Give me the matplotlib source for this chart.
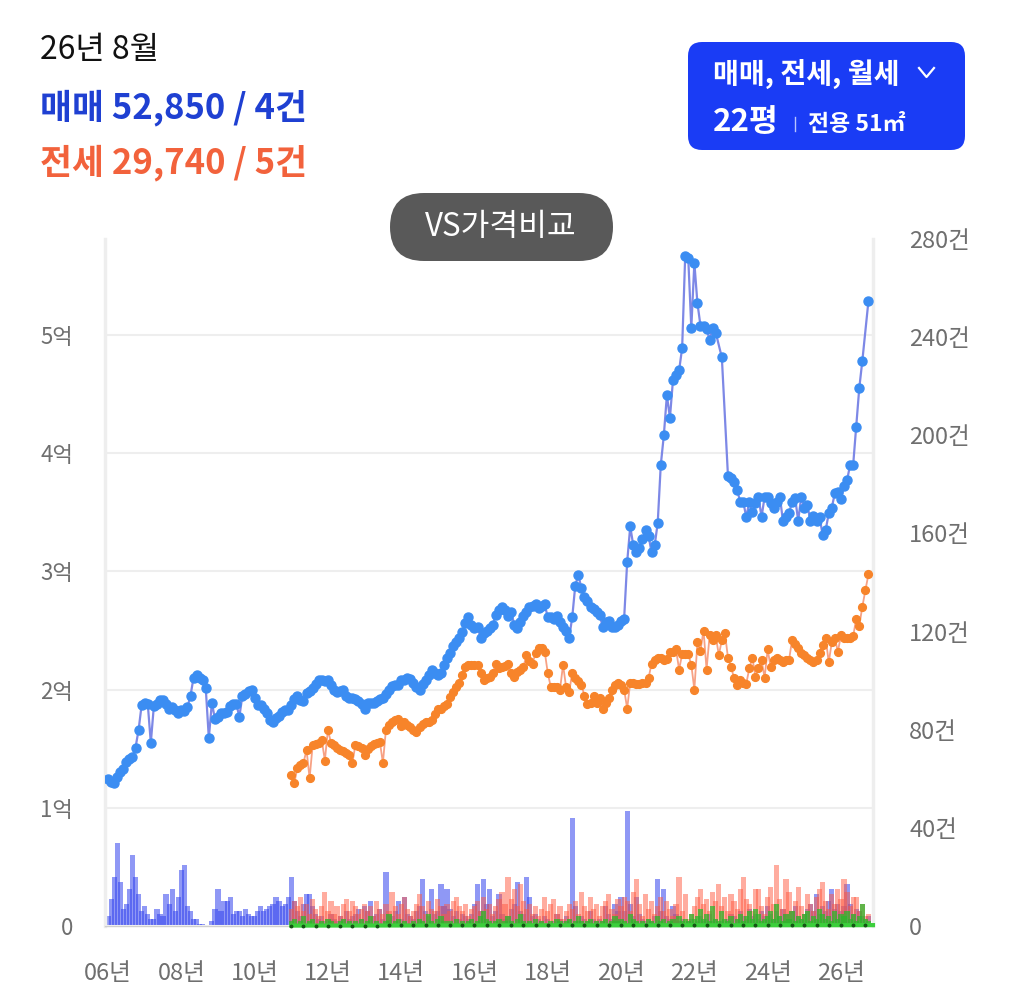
import numpy as np
import matplotlib
matplotlib.use("Agg")
import matplotlib.pyplot as plt
from matplotlib.patches import FancyBboxPatch

plt.rcParams["font.family"] = ["Noto Sans CJK KR", "DejaVu Sans"]

# ---- data (month index 0 = 2006-01) ----
tick_months = [0, 24, 48, 72, 96, 120, 144, 168, 192, 216, 240]
tick_labels = ["06년", "08년", "10년", "12년", "14년", "16년", "18년", "20년", "22년", "24년", "26년"]

price_ticks = [0, 1, 2, 3, 4, 5]
price_labels = ["0", "1억", "2억", "3억", "4억", "5억"]
count_ticks = [0, 40, 80, 120, 160, 200, 240, 280]
count_labels = ["0", "40건", "80건", "120건", "160건", "200건", "240건", "280건"]

# 매매 price (억), one per month from 06년 1월; None = no trade
sale_price = [
    1.24, 1.22, 1.21, 1.26, 1.30, 1.33, 1.39, 1.41, 1.43, 1.51,
    1.66, 1.87, 1.89, 1.88, 1.55, 1.86, 1.88, 1.91, 1.91, 1.88,
    1.84, 1.85, 1.83, 1.80, 1.83, 1.82, 1.85, 1.95, 2.10, 2.12,
    2.10, 2.08, 2.01, 1.59, 1.89, 1.75, 1.77, 1.80, 1.80, 1.81,
    1.86, 1.88, 1.88, 1.77, 1.95, 1.96, 1.99, 2.00, 1.93, 1.87,
    1.87, 1.84, 1.80, 1.74, 1.73, 1.76, 1.78, 1.81, 1.83, 1.83,
    1.87, 1.92, 1.95, 1.91, 1.90, 1.97, 1.99, 2.01, 2.05, 2.08,
    2.08, 2.07, 2.08, 2.04, 2.00, 1.98, 1.99, 2.00, 1.95, 1.93,
    1.93, 1.92, 1.90, 1.88, 1.84, 1.89, 1.89, 1.89, 1.90, 1.92,
    1.93, 1.96, 2.00, 2.03, 2.04, 2.04, 2.08, 2.08, 2.10, 2.09,
    2.06, 2.02, 2.00, 2.05, 2.08, 2.12, 2.17, 2.14, 2.12, 2.14,
    2.21, 2.27, 2.31, 2.37, 2.40, 2.44, 2.49, 2.56, 2.61, 2.55,
    2.52, 2.53, 2.44, 2.48, 2.50, 2.52, 2.55, 2.63, 2.67, 2.70,
    2.67, 2.62, 2.66, 2.55, 2.52, 2.57, 2.62, 2.66, 2.70, 2.71,
    2.72, 2.69, 2.71, 2.72, 2.61, 2.61, 2.60, 2.62, 2.57, 2.53,
    2.50, 2.44, 2.61, 2.88, 2.97, 2.86, 2.78, 2.75, 2.70, 2.68,
    2.66, 2.63, 2.53, 2.57, 2.58, 2.53, 2.53, 2.55, 2.58, 2.60,
    3.08, 3.38, 3.22, 3.16, 3.20, 3.27, 3.35, 3.30, 3.16, 3.22,
    3.41, 3.90, 4.15, 4.49, 4.30, 4.62, 4.66, 4.70, 4.89, 5.67,
    5.65, 5.06, 5.61, 5.27, 5.08, 5.08, 5.05, 4.96, 5.06, 5.02,
    None, 4.81, None, 3.81, 3.79, 3.76, 3.69, 3.59, 3.59, 3.46,
    3.59, 3.50, 3.58, 3.63, 3.46, 3.63, 3.63, 3.58, 3.54, 3.59,
    3.63, 3.43, 3.46, 3.49, 3.59, 3.62, 3.43, 3.63, 3.54, 3.56,
    3.43, 3.47, 3.43, 3.46, 3.31, 3.35, 3.49, 3.54, 3.66, 3.67,
    3.61, 3.72, 3.77, 3.90, 3.90, 4.22, 4.55, 4.78, None, 5.285,
]

# 전세 price (억), from 11년 1월 (month 60)
jeonse_start = 60
jeonse_price = [
    1.28, 1.21, 1.34, 1.36, 1.38, 1.49, 1.25, 1.53, 1.54, 1.55,
    1.57, 1.40, 1.66, 1.55, 1.53, 1.51, 1.49, 1.48, 1.46, 1.45,
    1.38, 1.53, 1.52, 1.51, 1.45, 1.50, 1.52, 1.54, 1.55, 1.56,
    1.38, 1.66, 1.70, 1.73, 1.74, 1.75, 1.69, 1.73, 1.70, 1.68,
    1.66, 1.64, 1.68, 1.71, 1.73, 1.73, 1.74, 1.79, 1.84, 1.84,
    1.86, 1.88, 1.94, 1.98, 2.02, 2.06, 2.12, 2.19, 2.21, 2.21,
    2.21, 2.21, 2.14, 2.08, 2.10, 2.11, 2.14, 2.22, 2.18, 2.19,
    2.20, 2.22, 2.14, 2.11, 2.15, 2.17, 2.19, 2.29, 2.24, 2.22,
    2.31, 2.35, 2.35, 2.32, 2.14, 2.02, 2.02, 2.02, 2.00, 2.21,
    2.02, 1.98, 2.14, 2.10, 2.07, 2.04, 1.95, 1.88, 1.89, 1.95,
    1.89, 1.93, 1.84, 1.89, 1.93, 2.00, 2.04, 2.06, 2.04, 2.00,
    1.84, 2.06, 2.06, 2.05, 2.05, 2.06, 2.06, 2.10, 2.22, 2.25,
    2.27, 2.27, 2.25, 2.26, 2.32, 2.32, 2.34, 2.17, 2.30, 2.30,
    2.30, 2.21, 2.00, 2.40, 2.33, 2.50, 2.17, 2.46, 2.42, 2.46,
    2.29, 2.42, 2.48, 2.27, 2.19, 2.10, 2.04, 2.08, 2.06, 2.05,
    2.18, 2.27, 2.11, 2.18, 2.25, 2.10, 2.34, 2.19, 2.25, 2.27,
    2.25, 2.23, 2.25, 2.25, 2.42, 2.39, 2.35, 2.31, 2.29, 2.27,
    2.25, 2.23, 2.25, 2.31, 2.38, 2.44, 2.23, 2.40, 2.44, 2.32,
    2.46, 2.44, 2.44, 2.44, 2.45, 2.60, 2.54, 2.70, 2.84, 2.974,
]

# 월세 (만원), sparse points from 11년
rent_month = [60, 64, 68, 72, 76, 80, 84, 88, 92, 96, 100, 104, 108, 112, 116, 120,
              124, 128, 132, 136, 140, 144, 148, 152, 156, 160, 164, 168, 172, 176,
              180, 184, 188, 192, 196, 200, 204, 208, 212, 216, 220, 224, 228, 232,
              236, 240, 244, 248]
rent_price = [35, 35, 38, 40, 40, 40, 42, 42, 45, 45, 45, 48, 50, 50, 50, 52,
              55, 55, 55, 55, 58, 60, 60, 58, 55, 55, 55, 55, 58, 60,
              60, 65, 65, 65, 62, 60, 60, 62, 65, 65, 65, 68, 68, 70,
              70, 70, 72, 75]

# transaction counts (건)
sale_count = [
    4, 11, 20, 34, 18, 7, 9, 15, 29, 20,
    13, 6, 8, 5, 3, 3, 7, 5, 4, 13,
    9, 15, 6, 12, 23, 25, 8, 6, 3, 3,
    1, 1, 0, 0, 2, 7, 15, 6, 10, 10,
    12, 5, 6, 6, 4, 7, 5, 4, 4, 6,
    8, 6, 7, 8, 9, 12, 10, 8, 9, 12,
    20, 10, 6, 4, 9, 13, 13, 8, 5, 3,
    4, 2, 3, 5, 3, 2, 4, 3, 6, 3,
    4, 5, 7, 3, 8, 6, 10, 4, 5, 7,
    3, 22, 5, 4, 6, 10, 3, 12, 5, 4,
    3, 6, 8, 19, 6, 4, 15, 5, 6, 17,
    8, 15, 7, 4, 6, 3, 5, 4, 3, 5,
    9, 17, 6, 19, 9, 15, 4, 6, 13, 5,
    3, 4, 7, 9, 18, 6, 5, 20, 12, 4,
    5, 3, 2, 4, 3, 1, 2, 5, 3, 2,
    4, 3, 44, 8, 2, 4, 3, 2, 6, 3,
    2, 3, 2, 8, 5, 3, 9, 6, 12, 6,
    47, 9, 4, 12, 5, 3, 2, 3, 2, 4,
    19, 6, 15, 4, 3, 8, 5, 2, 3, 1,
    2, 3, 1, 2, 4, 2, 3, 5, 2, 3,
    1, 2, 0, 3, 5, 4, 3, 6, 4, 3,
    7, 4, 5, 3, 6, 4, 8, 5, 3, 6,
    4, 7, 5, 3, 6, 8, 4, 3, 5, 7,
    9, 6, 13, 5, 8, 6, 10, 15, 7, 9,
    6, 8, 17, 9, 5, 7, 6, 4, 3, 4,
]
jeonse_count = [
    7, 10, 8, 12, 6, 9, 5, 11, 7, 4, 8, 14, 6, 10, 5, 8, 4, 9, 11, 6,
    10, 8, 5, 7, 9, 6, 8, 4, 10, 7, 5, 9, 6, 14, 8, 5, 9, 12, 7, 4,
    6, 9, 13, 8, 5, 10, 7, 6, 11, 8, 5, 9, 6, 10, 12, 8, 6, 9, 4, 7,
    8, 10, 6, 12, 7, 9, 5, 8, 11, 14, 9, 20, 11, 15, 8, 17, 10, 7, 9, 5,
    8, 4, 7, 12, 6, 9, 11, 5, 8, 3, 6, 9, 7, 10, 5, 14, 8, 6, 12, 7,
    9, 4, 8, 10, 13, 7, 5, 11, 8, 12, 10, 6, 14, 19, 9, 4, 13, 7, 10, 5,
    8, 12, 6, 10, 7, 4, 9, 20, 6, 13, 3, 5, 8, 12, 15, 9, 11, 6, 14, 10,
    17, 8, 12, 6, 13, 10, 7, 15, 20, 11, 9, 6, 15, 15, 8, 5, 12, 16, 9, 25,
    11, 7, 19, 14, 6, 10, 16, 8, 5, 13, 9, 6, 12, 15, 18, 10, 7, 13, 9, 15,
    11, 19, 14, 8, 12, 12, 6, 9, 4, 5,
]
rent_count = [
    2, 3, 1, 2, 4, 1, 2, 3, 1, 0, 2, 1, 3, 2, 1, 0, 2, 3, 1, 2,
    1, 2, 0, 3, 1, 2, 4, 1, 2, 1, 0, 2, 5, 1, 2, 3, 1, 2, 0, 1,
    2, 1, 3, 2, 1, 5, 2, 1, 3, 4, 2, 1, 2, 0, 3, 1, 2, 1, 2, 3,
    1, 2, 4, 6, 3, 2, 1, 2, 3, 1, 2, 4, 2, 1, 3, 5, 2, 1, 2, 1,
    3, 1, 2, 1, 0, 2, 1, 3, 2, 1, 2, 3, 1, 2, 4, 2, 1, 2, 3, 1,
    2, 1, 2, 3, 1, 2, 4, 2, 3, 2, 1, 5, 3, 2, 1, 2, 1, 3, 2, 1,
    4, 2, 3, 1, 2, 3, 1, 4, 2, 3, 2, 5, 3, 4, 7, 3, 5, 2, 8, 3,
    2, 6, 3, 2, 4, 1, 3, 5, 2, 4, 6, 3, 7, 5, 2, 3, 4, 6, 3, 9,
    4, 2, 5, 3, 6, 2, 4, 3, 5, 6, 2, 4, 3, 7, 5, 3, 4, 2, 6, 3,
    5, 4, 6, 3, 5, 2, 4, 9, 3, 2,
]

# ---- figure ----
W, H = 1026, 1002
fig = plt.figure(figsize=(W / 100, H / 100), dpi=100)

months = np.arange(len(sale_price))
jeonse_months = np.arange(jeonse_start, jeonse_start + len(jeonse_price))

rect = [105 / W, 1 - 926 / H, (873 - 105) / W, (926 - 239) / H]
ax_cnt = fig.add_axes(rect)
ax_px = fig.add_axes(rect, sharex=ax_cnt)
ax_px.patch.set_alpha(0)

# volume bars
ax_cnt.bar(months, sale_count, width=1.7, color="#3344ee", alpha=0.55, linewidth=0)
ax_cnt.bar(jeonse_months, jeonse_count, width=1.7, color="#ff5a40", alpha=0.5, linewidth=0)
ax_cnt.bar(jeonse_months, rent_count, width=1.7, color="#2cb82c", alpha=0.75, linewidth=0)
ax_cnt.set_ylim(0, 280)
ax_cnt.set_xlim(-1.0, 250.5)
ax_cnt.yaxis.tick_right()
ax_cnt.set_yticks(count_ticks)
ax_cnt.set_yticklabels(count_labels)
ax_cnt.set_xticks(tick_months)
ax_cnt.set_xticklabels(tick_labels)
ax_cnt.tick_params(axis="y", length=0, pad=26, labelsize=17, labelcolor="#6f6f6f")
ax_cnt.tick_params(axis="x", length=0, pad=26, labelsize=17, labelcolor="#6f6f6f")
for s in ["left", "right"]:
    ax_cnt.spines[s].set_color("#eeeeee")
    ax_cnt.spines[s].set_linewidth(2.5)
ax_cnt.spines["top"].set_visible(False)
ax_cnt.spines["bottom"].set_color("#cfcfcf")
ax_cnt.spines["bottom"].set_linewidth(1)

# price lines
sx = [m for m, v in zip(months, sale_price) if v is not None]
sy = [v for v in sale_price if v is not None]
ax_px.plot(sx, sy, color="#7d88e6", lw=1.6, zorder=3)
ax_px.plot(sx, sy, "o", ms=6.5, color="#3b8df2", zorder=4)

ax_px.plot(jeonse_months, jeonse_price, color="#f7a184", lw=1.3, zorder=5)
ax_px.plot(jeonse_months, jeonse_price, "o", ms=5.6, color="#f7842a", zorder=6)

rent_eok = [p / 10000 for p in rent_price]
ax_px.plot(rent_month + [250.5], rent_eok + [rent_eok[-1]], color="#3ccf3c", lw=3,
           zorder=2.5, clip_on=False)
ax_px.plot(rent_month, rent_eok, "o", ms=1.8, color="#155515", zorder=2.6, clip_on=False)

ax_px.set_ylim(0, (926 - 239) / 118.2)
ax_px.set_yticks(price_ticks)
ax_px.set_yticklabels(price_labels)
ax_px.tick_params(axis="y", length=0, pad=23, labelsize=16, labelcolor="#6f6f6f")
ax_px.xaxis.set_visible(False)
ax_px.grid(axis="y", color="#eeeeee", lw=1.5)
ax_px.set_axisbelow(True)
for s in ax_px.spines.values():
    s.set_visible(False)

# ---- header / overlay ----
ov = fig.add_axes([0, 0, 1, 1])
ov.set_xlim(0, W)
ov.set_ylim(H, 0)
ov.axis("off")
ov.patch.set_alpha(0)

ov.text(40, 50, "26년 8월", fontsize=23, color="#111111", va="center", ha="left")
ov.text(40, 108, "매매 52,850 / 4건", fontsize=25, fontweight="bold", color="#1f40d2",
        va="center", ha="left")
ov.text(40, 163, "전세 29,740 / 5건", fontsize=25, fontweight="bold", color="#f2623c",
        va="center", ha="left")

ov.add_patch(FancyBboxPatch((688, 42), 277, 108, boxstyle="round,pad=0,rounding_size=14",
                            facecolor="#1a3cf5", edgecolor="none"))
ov.text(713, 74, "매매, 전세, 월세", fontsize=20.3, fontweight="bold", color="white",
        va="center", ha="left")
ov.plot([919, 926.5, 934], [68, 77, 68], color="white", lw=1.6)
ov.text(713, 122, "22평", fontsize=22.5, fontweight="bold", color="white", va="center", ha="left")
ov.plot([795, 795], [117, 131], color="#b8c4ff", lw=1)
ov.text(808, 124, "전용 51㎡", fontsize=16.5, fontweight="bold", color="white",
        va="center", ha="left")

ov.add_patch(FancyBboxPatch((390, 193), 223, 68, boxstyle="round,pad=0,rounding_size=34",
                            facecolor="#595959", edgecolor="none"))
ov.text(501, 227, "VS가격비교", fontsize=22.5, color="white", va="center", ha="center")

fig.savefig("out.png", dpi=100)
